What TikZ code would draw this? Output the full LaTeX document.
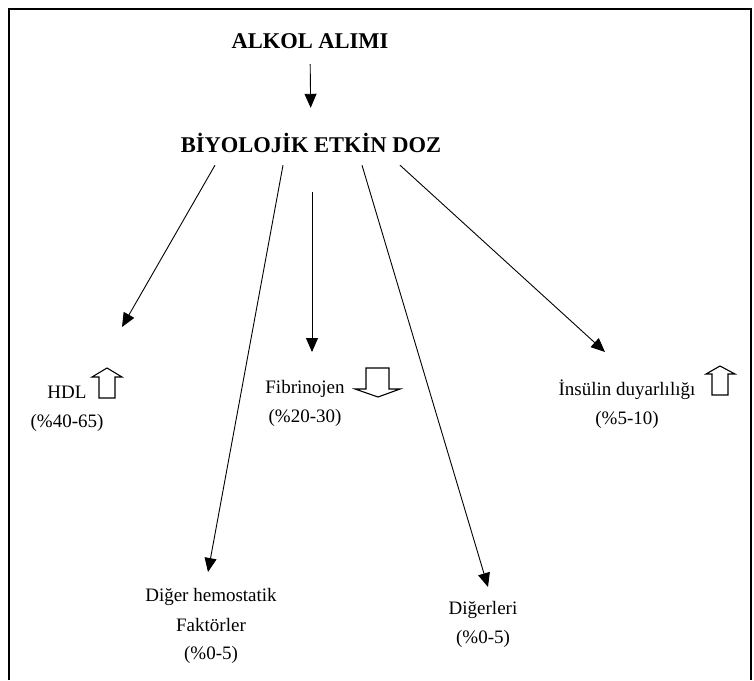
\documentclass[tikz,border=0pt]{standalone}
\usepackage{fontspec}
\setmainfont{Liberation Serif}
\usetikzlibrary{arrows.meta,calc}

\begin{document}
\begin{tikzpicture}[x=1pt, y=-1pt,
    every node/.style={inner sep=0pt, font=\fontsize{19}{23}\selectfont},
    title/.style={font=\bfseries\fontsize{22.5}{27}\selectfont, text height=16pt, text depth=0pt},
    link/.style={line width=0.9pt, -{Triangle[length=14pt, width=12pt]}},
    hollow/.style={line width=1.1pt, line join=miter},
    frame/.style={line width=1.8pt}]
  \useasboundingbox (0,0) rectangle (754,680);
  \draw[frame] (9,680) -- (9,9) -- (751,9) -- (751,680);

  \node[title, anchor=base] (alkol) at (310,48) {ALKOL ALIMI};
  \node[title, anchor=base] (doz) at (311,152) {BİYOLOJİK ETKİN DOZ};
  \draw[link, shorten <=16pt, shorten >=28pt] (alkol.south) -- (doz.north);

  % etkilenen parametreler
  \node[anchor=base] (hdl) at (67,398) {HDL};
  \node[anchor=base] (hdlpct) at ([yshift=-29pt]hdl.base) {(\%40-65)};
  \node[anchor=base] (fib) at (305,393) {Fibrinojen};
  \node[anchor=base] (fibpct) at ([yshift=-29pt]fib.base) {(\%20-30)};
  \node[anchor=base] (ins) at (627,395) {İnsülin duyarlılığı};
  \node[anchor=base] (inspct) at ([yshift=-29pt]ins.base) {(\%5-10)};
  \node[anchor=base] (hemo) at (211,601) {Diğer hemostatik};
  \node[anchor=base] (faktor) at ([yshift=-30pt]hemo.base) {Faktörler};
  \node[anchor=base] (hemopct) at ([yshift=-28pt]faktor.base) {(\%0-5)};
  \node[anchor=base] (diger) at (483,614) {Diğerleri};
  \node[anchor=base] (digerpct) at ([yshift=-29pt]diger.base) {(\%0-5)};

  % ok uclari
  \coordinate (hdltip) at (122,327);
  \coordinate (fibtip) at (312,352);
  \coordinate (instip) at (605,352);
  \coordinate (hemotip) at (208,572);
  \coordinate (digertip) at (488,587);

  \draw[link] ($(doz.south)+(-96,13)$) -- (hdltip);
  \draw[link] ($(doz.south)+(-28,13)$) -- (hemotip);
  \draw[link] ($(doz.south)+(1,40)$) -- (fibtip);
  \draw[link] ($(doz.south)+(51,13)$) -- (digertip);
  \draw[link] ($(doz.south)+(89,13)$) -- (instip);

  % bos oklar
  \draw[hollow] (99,398) -- (99,377) -- (92,377) -- (107,368) -- (122,377) -- (115,377) -- (115,398) -- cycle;
  \draw[hollow] (366,368) -- (389,368) -- (389,389) -- (400,389) -- (378,397) -- (355,389) -- (366,389) -- cycle;
  \draw[hollow] (712,395) -- (712,374) -- (706,374) -- (720,366) -- (735,374) -- (728,374) -- (728,395) -- cycle;
\end{tikzpicture}
\end{document}
